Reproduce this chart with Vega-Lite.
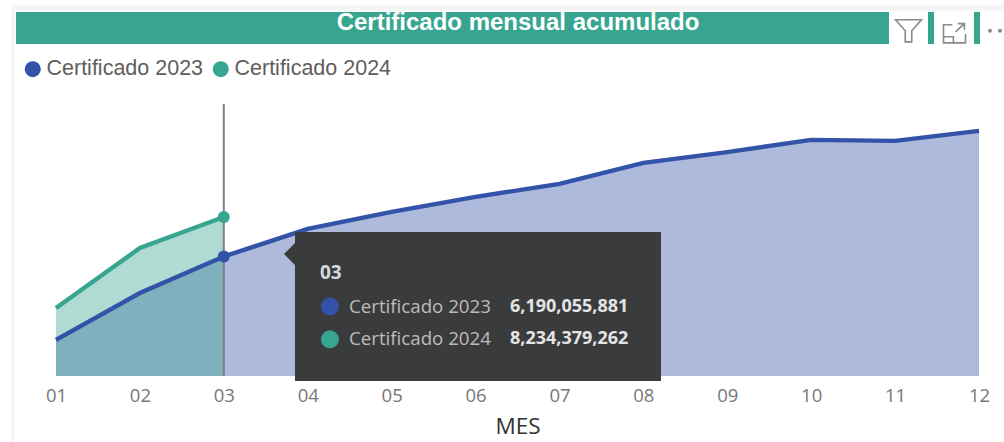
{"$schema":"https://vega.github.io/schema/vega-lite/v6.json","autosize":"none","width":923,"height":272,"padding":{"left":56,"top":104,"right":25,"bottom":66},"background":"white","data":{"values":[{"MES":1,"serie":"Certificado 2023","valor":1870000000},{"MES":2,"serie":"Certificado 2023","valor":4300000000},{"MES":3,"serie":"Certificado 2023","valor":6190055881},{"MES":4,"serie":"Certificado 2023","valor":7620000000},{"MES":5,"serie":"Certificado 2023","valor":8500000000},{"MES":6,"serie":"Certificado 2023","valor":9280000000},{"MES":7,"serie":"Certificado 2023","valor":9950000000},{"MES":8,"serie":"Certificado 2023","valor":11040000000},{"MES":9,"serie":"Certificado 2023","valor":11600000000},{"MES":10,"serie":"Certificado 2023","valor":12230000000},{"MES":11,"serie":"Certificado 2023","valor":12180000000},{"MES":12,"serie":"Certificado 2023","valor":12700000000},{"MES":1,"serie":"Certificado 2024","valor":3520000000},{"MES":2,"serie":"Certificado 2024","valor":6630000000},{"MES":3,"serie":"Certificado 2024","valor":8234379262}]},"layer":[{"mark":{"type":"area","opacity":0.4,"interpolate":"linear"},"encoding":{"x":{"field":"MES","type":"quantitative","scale":{"domain":[1,12],"nice":false,"zero":false},"axis":{"values":[1,2,3,4,5,6,7,8,9,10,11,12],"format":"02d","grid":false,"ticks":false,"domain":false,"labelFlush":false,"labelOverlap":false,"labelFont":"Open Sans","labelFontSize":18.5,"labelColor":"#777777","labelPadding":10,"title":"MES","titleFont":"Open Sans","titleFontSize":22.5,"titleFontWeight":"normal","titleColor":"#333333","titlePadding":11}},"y":{"field":"valor","type":"quantitative","stack":null,"scale":{"domain":[0,14090000000],"nice":false},"axis":null},"color":{"field":"serie","type":"nominal","scale":{"domain":["Certificado 2023","Certificado 2024"],"range":["#3353a8","#37a58f"]},"legend":{"orient":"none","legendX":-34,"legendY":-46,"direction":"horizontal","title":null,"symbolType":"circle","symbolSize":256,"symbolOpacity":1,"symbolStrokeWidth":0,"labelFont":"Liberation Sans","labelFontSize":21.5,"labelColor":"#605e5c","labelOffset":3,"columnPadding":6}}}},{"mark":{"type":"line","strokeWidth":4.4,"interpolate":"linear"},"encoding":{"x":{"field":"MES","type":"quantitative"},"y":{"field":"valor","type":"quantitative","stack":null},"color":{"field":"serie","type":"nominal"}}},{"data":{"values":[{}]},"mark":{"type":"rule","color":"#808080","strokeWidth":2},"encoding":{"x":{"datum":3,"type":"quantitative"},"y":{"datum":14090000000,"type":"quantitative"},"y2":{"datum":0}}},{"transform":[{"filter":"datum.MES==3"}],"mark":{"type":"point","filled":true,"size":144,"opacity":1},"encoding":{"x":{"field":"MES","type":"quantitative"},"y":{"field":"valor","type":"quantitative","stack":null},"color":{"field":"serie","type":"nominal"}}},{"data":{"values":[{}]},"mark":{"type":"rule","color":"#f3f3f3","strokeWidth":3},"encoding":{"x":{"datum":0.488,"type":"quantitative"},"y":{"datum":19070000000,"type":"quantitative"},"y2":{"datum":-3420000000}}},{"data":{"values":[{}]},"mark":{"type":"rule","color":"#f5f5f5","strokeWidth":6},"encoding":{"x":{"datum":0.47,"type":"quantitative"},"x2":{"datum":12.3},"y":{"datum":19070000000,"type":"quantitative"}}},{"data":{"values":[{}]},"mark":{"type":"rect","color":"#37a58f"},"encoding":{"x":{"datum":0.523,"type":"quantitative"},"x2":{"datum":10.927},"y":{"datum":18860000000,"type":"quantitative"},"y2":{"datum":17200000000}}},{"data":{"values":[{"titulo":"Certificado mensual acumulado"}]},"mark":{"type":"text","align":"center","baseline":"middle","font":"Liberation Sans","fontWeight":"bold","fontSize":24,"color":"white"},"encoding":{"text":{"field":"titulo"},"x":{"datum":6.506,"type":"quantitative"},"y":{"datum":18290000000,"type":"quantitative"}}},{"data":{"values":[{}]},"mark":{"type":"rect","color":"#37a58f"},"encoding":{"x":{"datum":11.392,"type":"quantitative"},"x2":{"datum":11.464},"y":{"datum":18860000000,"type":"quantitative"},"y2":{"datum":17200000000}}},{"data":{"values":[{}]},"mark":{"type":"rect","color":"#37a58f"},"encoding":{"x":{"datum":11.94,"type":"quantitative"},"x2":{"datum":12.012},"y":{"datum":18860000000,"type":"quantitative"},"y2":{"datum":17200000000}}},{"data":{"values":[{}]},"mark":{"type":"point","filled":false,"opacity":1,"size":676,"stroke":"#8a8a8a","strokeWidth":1.6,"shape":"M-1,-0.85 L1,-0.85 L0.25,0 L0.25,0.85 L-0.25,0.85 L-0.25,0 Z"},"encoding":{"x":{"datum":11.16,"type":"quantitative"},"y":{"datum":17880000000,"type":"quantitative"}}},{"data":{"values":[{}]},"mark":{"type":"point","filled":false,"opacity":1,"size":484,"stroke":"#8a8a8a","strokeWidth":1.6,"shape":"M-0.2,-0.75 L-1,-0.75 L-1,0.9 L1,0.9 L1,0.1 M-1,0.35 L-0.1,0.35 L-0.1,0.9 M0.1,-0.1 L0.9,-0.85 M0.3,-0.85 L0.9,-0.85 L0.9,-0.3"},"encoding":{"x":{"datum":11.708,"type":"quantitative"},"y":{"datum":17770000000,"type":"quantitative"}}},{"data":{"values":[{}]},"mark":{"type":"point","filled":true,"opacity":1,"size":16,"color":"#8a8a8a"},"encoding":{"x":{"datum":12.131,"type":"quantitative"},"y":{"datum":17880000000,"type":"quantitative"}}},{"data":{"values":[{}]},"mark":{"type":"point","filled":true,"opacity":1,"size":16,"color":"#8a8a8a"},"encoding":{"x":{"datum":12.25,"type":"quantitative"},"y":{"datum":17880000000,"type":"quantitative"}}},{"data":{"values":[{}]},"mark":{"type":"rect","color":"#3a3b3d"},"encoding":{"x":{"datum":3.848,"type":"quantitative"},"x2":{"datum":8.21},"y":{"datum":7461000000,"type":"quantitative"},"y2":{"datum":-259000000}}},{"data":{"values":[{}]},"mark":{"type":"point","filled":true,"opacity":1,"size":484,"color":"#3a3b3d","shape":"M0,-1 L-1,0 L0,1 Z"},"encoding":{"x":{"datum":3.848,"type":"quantitative"},"y":{"datum":6320000000,"type":"quantitative"}}},{"data":{"values":[{"mes":"03"}]},"mark":{"type":"text","align":"left","font":"Open Sans","fontWeight":"bold","fontSize":19,"color":"#d8d8d8"},"encoding":{"text":{"field":"mes"},"x":{"datum":4.146,"type":"quantitative"},"y":{"datum":5340000000,"type":"quantitative"}}},{"transform":[{"filter":"datum.MES==3 && datum.serie=='Certificado 2023'"}],"layer":[{"mark":{"type":"point","filled":true,"opacity":1,"size":324,"color":"#3353a8"},"encoding":{"x":{"datum":4.265,"type":"quantitative"},"y":{"datum":3600000000,"type":"quantitative"}}},{"mark":{"type":"text","align":"left","font":"Open Sans","fontSize":18.7,"color":"#bdbdbd"},"encoding":{"text":{"field":"serie"},"x":{"datum":4.492,"type":"quantitative"},"y":{"datum":3600000000,"type":"quantitative"}}},{"mark":{"type":"text","align":"left","font":"Open Sans","fontWeight":"bold","fontSize":18,"color":"#e4e4e4"},"encoding":{"text":{"field":"valor","format":","},"x":{"datum":6.411,"type":"quantitative"},"y":{"datum":3600000000,"type":"quantitative"}}}]},{"transform":[{"filter":"datum.MES==3 && datum.serie=='Certificado 2024'"}],"layer":[{"mark":{"type":"point","filled":true,"opacity":1,"size":324,"color":"#37a58f"},"encoding":{"x":{"datum":4.265,"type":"quantitative"},"y":{"datum":1900000000,"type":"quantitative"}}},{"mark":{"type":"text","align":"left","font":"Open Sans","fontSize":18.7,"color":"#bdbdbd"},"encoding":{"text":{"field":"serie"},"x":{"datum":4.492,"type":"quantitative"},"y":{"datum":1900000000,"type":"quantitative"}}},{"mark":{"type":"text","align":"left","font":"Open Sans","fontWeight":"bold","fontSize":18,"color":"#e4e4e4"},"encoding":{"text":{"field":"valor","format":","},"x":{"datum":6.411,"type":"quantitative"},"y":{"datum":1900000000,"type":"quantitative"}}}]}],"config":{"view":{"stroke":null}}}
